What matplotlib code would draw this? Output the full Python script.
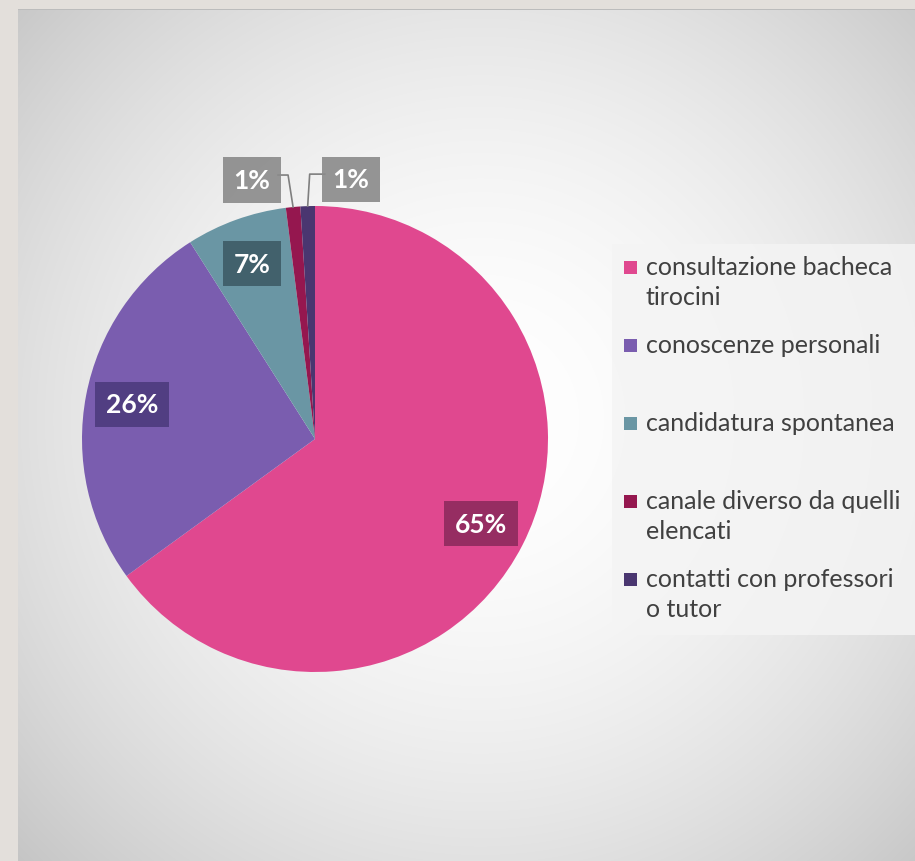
import numpy as np
import matplotlib.pyplot as plt
from matplotlib.patches import Rectangle

# Data
labels = ['consultazione bacheca\ntirocini', 'conoscenze personali', 'candidatura spontanea',
          'canale diverso da quelli\nelencati', 'contatti con professori\no tutor']
values = [65, 26, 7, 1, 1]
colors = ['#e0488f', '#7a5daf', '#6a96a4', '#95174f', '#4a3670']
box_colors = ['#8e2b5e', '#4d3b7d', '#3e5c66', '#8a8a8a', '#8a8a8a']

W, H = 915, 862
plt.rcParams['font.family'] = ['Lato', 'DejaVu Sans']

fig = plt.figure(figsize=(W / 100, H / 100), dpi=100)

# background: warm frame + radial gray gradient panel
bg = fig.add_axes([0, 0, 1, 1])
yy, xx = np.mgrid[0:H, 0:W]
d = np.sqrt((xx - 480) ** 2 + (yy - 420) ** 2) / 640
g = (255 - 58 * np.clip(d, 0, 1.1) ** 1.8) / 255
img = np.dstack([g, g, g])
frame = np.array([0xe3, 0xdf, 0xdb]) / 255
img[:10, :] = frame
img[:, :18] = frame
img[10, 18:] = 0.74
bg.imshow(img, extent=(0, W, H, 0), aspect='auto')
bg.axis('off')

ax = fig.add_axes([0, 0, 1, 1])
cx, cy, R = 315, H - 440, 233
wedges, _ = ax.pie(values, colors=colors, startangle=90, counterclock=False,
                   center=(cx, cy), radius=R, wedgeprops=dict(linewidth=0))
ax.set_xlim(0, W)
ax.set_ylim(0, H)
ax.set_aspect('equal')
ax.axis('off')

# small-slice label offsets (pixels, relative to the wedge tip)
small_pos = {3: (-41, 27), 4: (43, 27)}
for i, w in enumerate(wedges):
    ang = np.deg2rad((w.theta1 + w.theta2) / 2)
    txt = f'{values[i]}%'
    bbox = dict(boxstyle='square,pad=0.4', fc=box_colors[i], ec='none', alpha=0.9)
    if i in small_pos:
        tx, ty = cx + R * np.cos(ang), cy + R * np.sin(ang)
        dx, dy = small_pos[i]
        lx, ly = tx + dx, ty + dy
        elbow_x = tx + (-5 if dx < 0 else 2)
        end_x = lx + (26 if dx < 0 else -26)
        ax.plot([tx, elbow_x, end_x], [ty, ly + 5, ly + 5], color='#7f7f7f', lw=1.2)
        ax.text(lx, ly, txt, ha='center', va='center', color='white',
                fontsize=19, fontweight='bold', bbox=bbox)
    else:
        r = 0.8 * R
        ax.text(cx + r * np.cos(ang), cy + r * np.sin(ang), txt, ha='center', va='center',
                color='white', fontsize=19, fontweight='bold', bbox=bbox)

# legend panel
ax.add_patch(Rectangle((612, H - 636), 310, 391, fc='#f4f4f4', ec='none', alpha=0.85))
slot = 78
for i, lab in enumerate(labels):
    ytop = H - 268 - i * slot
    ax.add_patch(Rectangle((624, ytop - 7), 13, 13, fc=colors[i], ec='none'))
    ax.text(646, ytop + 12, lab, ha='left', va='top', fontsize=18, color='#404040',
            linespacing=1.38)

fig.savefig('out.png', dpi=100)
